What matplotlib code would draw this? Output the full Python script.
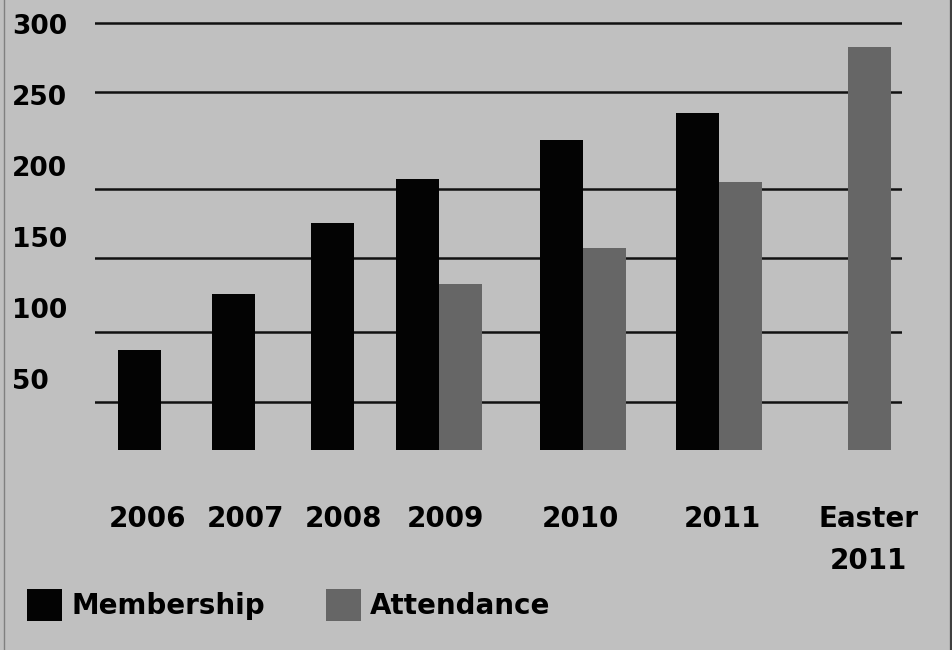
import numpy as np
import matplotlib
matplotlib.use("Agg")
import matplotlib.pyplot as plt
from matplotlib.patches import Patch
from matplotlib.lines import Line2D

# ---- data ----
categories = ["2006", "2007", "2008", "2009", "2010", "2011", "Easter\n2011"]
membership = [70, 110, 160, 191, 218, 237, None]
attendance = [None, None, None, 117, 142, 189, 284]
ytick_values = [50, 100, 150, 200, 250, 300]
ytick_labels = ["50", "100", "150", "200", "250", "300"]
grid_levels = [33.6, 82.7, 135.3, 183.9, 251.9, 300.5]

# ---- layout (in bar-width units) ----
group_x = [1.03, 3.23, 5.53, 8.0, 11.35, 14.51, 18.0]
label_x = [1.21, 3.49, 5.77, 8.14, 11.28, 14.58, 17.98]

BG = "#c0c0c0"
C_MEM = "#030303"
C_ATT = "#666666"

W, H = 952, 650
fig = plt.figure(figsize=(W / 100, H / 100), dpi=100, facecolor=BG)
ax_left, ax_right = 95, 902
ax_bottom_px = 449.7
px_per_unit = 1.419
ymax = 310
ax = fig.add_axes([ax_left / W, (H - ax_bottom_px) / H,
                   (ax_right - ax_left) / W, ymax * px_per_unit / H])
ax.set_facecolor(BG)
ax.set_ylim(0, ymax)
ax.set_xlim(0, (ax_right - ax_left) / 43.0)

for v in grid_levels:
    ax.axhline(v, color="#111111", lw=1.8, zorder=1)

for i, (m, a) in enumerate(zip(membership, attendance)):
    g = group_x[i]
    if m is not None and a is not None:
        ax.bar(g - 0.5, m, width=1.0, color=C_MEM, zorder=2)
        ax.bar(g + 0.5, a, width=1.0, color=C_ATT, zorder=2)
    elif m is not None:
        ax.bar(g, m, width=1.0, color=C_MEM, zorder=2)
    else:
        ax.bar(g, a, width=1.0, color=C_ATT, zorder=2)

for s in ax.spines.values():
    s.set_visible(False)

ax.set_yticks(ytick_values, ytick_labels)
ax.tick_params(axis="y", length=0, pad=(ax_left - 12) * 0.72, labelsize=19)
for t in ax.get_yticklabels():
    t.set_horizontalalignment("left")
    t.set_fontweight("heavy")

ax.set_xticks(label_x, categories)
ax.tick_params(axis="x", length=0, pad=40, labelsize=20)
for t in ax.get_xticklabels():
    t.set_fontweight("bold")
    t.set_linespacing(1.62)

handles = [Patch(facecolor=C_MEM, edgecolor="none", label="Membership"),
           Patch(facecolor=C_ATT, edgecolor="none", label="Attendance")]
fig.legend(handles=handles, loc="center left",
           bbox_to_anchor=(27 / W, (H - 605) / H), ncol=2, frameon=False,
           borderpad=0, borderaxespad=0, handlelength=1.27, handleheight=1.45,
           handletextpad=0.32, columnspacing=2.2,
           prop={"weight": "bold", "size": 20})

fig.add_artist(Line2D([3.5 / W, 3.5 / W], [0, 1], color="#808080", lw=1,
                      transform=fig.transFigure))
fig.add_artist(Line2D([950.5 / W, 950.5 / W], [0, 1], color="#404040", lw=1.6,
                      transform=fig.transFigure))

fig.savefig("out.png", dpi=100, facecolor=BG)
